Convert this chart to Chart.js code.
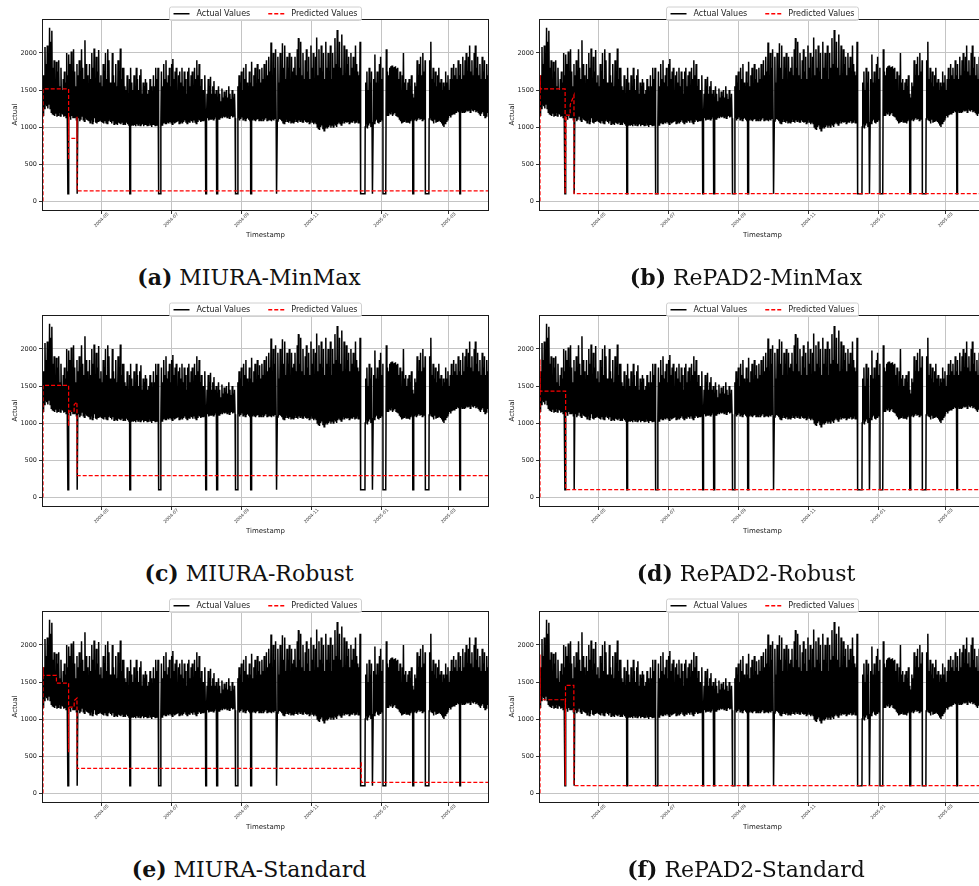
<!DOCTYPE html>
<html>
<head>
<meta charset="utf-8">
<script src="https://cdn.jsdelivr.net/npm/chart.js@4.4.1/dist/chart.umd.min.js"></script>
<style>
  html, body { margin: 0; padding: 0; background: #fff; }
  #page { position: relative; width: 979px; height: 886px; overflow: hidden; }
  .panel { position: absolute; }
  .caption {
    position: absolute; width: 498px; text-align: center;
    font-family: "DejaVu Serif", serif; font-size: 22px; line-height: 26px; color: #111;
  }
</style>
</head>
<body>
<div id="page"></div>
<script>
// x values are days counted from 2004-03-01
const startDay = 9.75;      // 2004-03-10 18:00
const endDay = 399.58;      // 2005-04-04 14:00
const startValue = 1360;
const firstDay = 10;

const tickDays = [61, 122, 184, 245, 306, 365];
const tickLabels = ["2004-05", "2004-07", "2004-09", "2004-11", "2005-01", "2005-03"];
const yTicks = [0, 500, 1000, 1500, 2000];
const yMin = -118, yMax = 2458;

// daily peak / trough of the actual sensor series
const actualHi = [
  1700, 2080, 1850, 2100, 1950, 2340, 2150, 2300, 1800, 1900,
  1650, 1880, 1750, 1900, 1550, 1800, 1500, 1650, 1750, 1600,
  2000, 1700, 1980, 1850, 2020, 1600, 2050, 1750, 1550, 1850,
  1700, 1900, 1550, 2050, 1800, 1650, 2170, 1850, 1700, 1500,
  1850, 1650, 2000, 1800, 2060, 1550, 1950, 1750, 2040, 1600,
  1700, 1550, 1850, 1750, 2000, 1650, 2050, 1900, 1600, 1500,
  2000, 1700, 1600, 1850, 1550, 1900, 1750, 2060, 1650, 1800,
  1800, 1550, 1500, 1700, 1450, 1650, 1800, 1600, 1500, 1700,
  1550, 1800, 1650, 1500, 1700, 1780, 1450, 1600, 1550, 1650,
  1600, 1450, 1500, 1650, 1550, 1400, 1700, 1550, 1800, 1650,
  1800, 1600, 1700, 1750, 1550, 1850, 1650, 1900, 1600, 1700,
  1800, 1550, 1850, 1920, 1650, 1750, 1800, 1500, 1700, 1750,
  1600, 1800, 1550, 1750, 1650, 1450, 1750, 1800, 1550, 1700,
  1750, 1550, 1800, 1650, 1900, 1700, 1850, 1550, 1650, 1500,
  1500, 1700, 1600, 1450, 1650, 1550, 1680, 1450, 1550, 1620,
  1450, 1500, 1400, 1550, 1450, 1350, 1520, 1400, 1480, 1420,
  1500, 1400, 1550, 1450, 1380, 1500, 1400, 1450, 1520, 1600,
  1550, 1700, 1600, 1750, 1500, 1800, 1650, 1850, 1600, 1550,
  1750, 1600, 1880, 1550, 1700, 1800, 1500, 1850, 1650, 1780,
  1600, 1800, 1650, 1850, 1550, 1900, 1700, 1950, 1750, 2140,
  1700, 2000, 1800, 2050, 1700, 1950, 1600, 2000, 1750, 2130,
  1800, 2100, 1650, 1950, 1800, 2000, 1600, 1950, 1750, 1800,
  1950, 1700, 2050, 2200, 1800, 2150, 1700, 2000, 1650, 1900,
  2050, 1750, 1950, 1650, 2100, 1800, 2000, 1600, 1950, 2210,
  1700, 2050, 1800, 2100, 1750, 2000, 1650, 2150, 1800, 2000,
  1750, 2100, 1650, 2000, 1800, 2200, 1850, 2310, 1750, 2150,
  1800, 2250, 1700, 2100, 1650, 2050, 1850, 1950, 1700, 2000,
  1800, 1950, 1700, 2100, 1850, 1750, 1700, 2150, 2200, 1900,
  1900, 1850, 1600, 1750, 1500, 1800, 1600, 1750, 1980, 1650,
  1980, 1600, 1750, 1550, 1850, 1950, 1650, 1800, 1900, 2050,
  2050, 1750, 1700, 1800, 1820, 1830, 1800, 1810, 1820, 1790,
  1800, 1650, 1750, 1500, 1700, 2000, 1600, 1650, 1500, 1600,
  1650, 1550, 1700, 1450, 1400, 1600, 1550, 1900, 1700, 1850,
  1950, 1700, 2000, 1750, 1900, 1650, 2050, 2140, 1900, 2150,
  1650, 1800, 1600, 1750, 1550, 1700, 1800, 1600, 1650, 1500,
  1600, 1550, 1750, 1600, 1700, 1500, 1650, 1800, 1650, 1850,
  1700, 1800, 1650, 1900, 1700, 1850, 1650, 1950, 1700, 1900,
  2000, 1750, 1950, 2100, 1750, 1900, 1700, 2000, 2100, 1800,
  1950, 1700, 1850, 1650, 1950, 1750, 1900, 1650, 1850, 1700
];
const actualLo = [
  1150, 1250, 1300, 1280, 1250, 1300, 1250, 1200, 1180, 1160,
  1150, 1180, 1140, 1160, 1200, 1150, 1180, 1170, 1140, 1150,
  1130, 1150, 1120, 1140, 1100, 1150, 1120, 1130, 1140, 1100,
  1100, 1120, 1080, 1100, 1150, 1100, 1080, 1120, 1100, 1090,
  1080, 1060, 1100, 1050, 1070, 1120, 1060, 1050, 1080, 1090,
  1100, 1070, 1060, 1050, 1080, 1060, 1050, 1090, 1100, 1070,
  1050, 1080, 1040, 1060, 1050, 1030, 1060, 1050, 1040, 1070,
  1040, 1050, 1030, 1060, 1040, 1020, 1050, 1030, 1040, 1020,
  1030, 1010, 1040, 1030, 1050, 1020, 1030, 1040, 1010, 1030,
  1040, 1020, 1030, 1050, 1020, 1000, 1030, 1040, 1020, 1030,
  1050, 1040, 1060, 1050, 1030, 1060, 1070, 1050, 1040, 1060,
  1050, 1070, 1060, 1040, 1080, 1050, 1060, 1070, 1080, 1050,
  1060, 1080, 1050, 1070, 1090, 1060, 1050, 1080, 1070, 1090,
  1080, 1060, 1090, 1070, 1050, 1080, 1100, 1090, 1070, 1080,
  1090, 1100, 1080, 1110, 1120, 1090, 1100, 1110, 1120, 1100,
  1110, 1130, 1120, 1140, 1110, 1130, 1150, 1120, 1140, 1130,
  1140, 1130, 1150, 1120, 1140, 1150, 1130, 1140, 1120, 1100,
  1100, 1120, 1090, 1110, 1130, 1100, 1120, 1090, 1110, 1120,
  1100, 1080, 1110, 1100, 1120, 1090, 1080, 1100, 1110, 1090,
  1100, 1090, 1110, 1080, 1100, 1120, 1090, 1100, 1110, 1090,
  1080, 1100, 1090, 1120, 1100, 1080, 1090, 1110, 1100, 1080,
  1060, 1050, 1080, 1100, 1070, 1060, 1080, 1050, 1070, 1060,
  1080, 1100, 1070, 1060, 1090, 1080, 1100, 1070, 1060, 1090,
  1070, 1060, 1080, 1050, 1070, 1090, 1060, 1040, 1060, 1050,
  1000, 980, 960, 1000, 1020, 970, 950, 990, 1010, 980,
  1000, 1020, 990, 1030, 1000, 1050, 1020, 1000, 1040, 1060,
  1050, 1030, 1060, 1080, 1050, 1070, 1060, 1080, 1050, 1070,
  1070, 1060, 1080, 1050, 1070, 1100, 1060, 1080, 1070, 1100,
  1100, 1100, 1000, 1050, 980, 1020, 1050, 1000, 1040, 1060,
  1050, 1080, 1100, 1060, 1050, 1080, 1100, 1120, 1100, 1080,
  1100, 1150, 1160, 1200, 1180, 1200, 1150, 1170, 1190, 1160,
  1150, 1140, 1100, 1080, 1050, 1060, 1080, 1100, 1070, 1060,
  1060, 1050, 1080, 1100, 1070, 1100, 1120, 1080, 1100, 1120,
  1100, 1120, 1090, 1110, 1130, 1100, 1120, 1100, 1110, 1130,
  1100, 1080, 1050, 1100, 1060, 1080, 1090, 1100, 1070, 1050,
  1020, 1000, 1050, 1080, 1100, 1120, 1150, 1130, 1160, 1180,
  1180, 1200, 1190, 1210, 1200, 1180, 1220, 1200, 1210, 1190,
  1200, 1220, 1210, 1230, 1200, 1250, 1220, 1210, 1230, 1200,
  1220, 1200, 1180, 1150, 1180, 1200, 1150, 1130, 1150, 1200
];

// sensor dropouts (value falls to ~100)
const gapStart = [31.6, 39.7, 85.8, 111.1, 152.3, 161.9, 178.4, 191.7, 214.2, 288.0, 298.2, 307.6, 333.7, 344.7, 374.9];
const gapEnd   = [31.9, 40.0, 86.1, 112.5, 152.6, 162.2, 180.4, 192.0, 214.5, 291.8, 298.5, 310.0, 334.0, 347.8, 375.2];
const gapLevel = 100;

// predicted values per method
const predMiuraMinMaxDays = [9.75, 9.8, 32.2, 32.25, 32.3, 32.35, 39.5, 39.55, 39.65, 399.58];
const predMiuraMinMaxVals = [0, 1515, 1515, 560, 1140, 847, 847, 1140, 140, 140];
const predRepadMinMaxDays = [9.75, 9.8, 10.0, 31.75, 31.8, 32.6, 36.1, 36.2, 39.5, 39.6, 399.58];
const predRepadMinMaxVals = [0, 1703, 1515, 1515, 104, 1162, 1162, 1300, 1432, 104, 104];
const predMiuraRobustDays = [9.75, 9.8, 32.2, 32.25, 32.3, 37.0, 37.1, 39.5, 39.6, 399.58];
const predMiuraRobustVals = [0, 1510, 1510, 960, 1162, 1162, 1250, 1284, 293, 293];
const predRepadRobustDays = [9.75, 9.8, 9.9, 32.2, 32.3, 399.58];
const predRepadRobustVals = [0, 1860, 1432, 1432, 104, 104];
const predMiuraStandardDays = [9.75, 9.8, 9.9, 21.5, 21.55, 32.2, 32.25, 32.3, 37.0, 37.1, 39.5, 39.6, 288.5, 288.55, 288.6, 399.58];
const predMiuraStandardVals = [0, 1703, 1590, 1590, 1486, 1486, 554, 1162, 1162, 1250, 1284, 335, 335, 430, 148, 148];
const predRepadStandardDays = [9.75, 9.8, 9.9, 31.9, 31.95, 32.1, 39.4, 39.5, 399.58];
const predRepadStandardVals = [0, 1870, 1261, 1261, 104, 1455, 1455, 104, 104];

const legendLabels = ["Actual Values", "Predicted Values"];

const panels = [
  { tag: "(a)", name: "MIURA-MinMax",    left: 0,   top: 0,   days: predMiuraMinMaxDays,   vals: predMiuraMinMaxVals },
  { tag: "(b)", name: "RePAD2-MinMax",   left: 497, top: 0,   days: predRepadMinMaxDays,   vals: predRepadMinMaxVals },
  { tag: "(c)", name: "MIURA-Robust",    left: 0,   top: 296, days: predMiuraRobustDays,   vals: predMiuraRobustVals },
  { tag: "(d)", name: "RePAD2-Robust",   left: 497, top: 296, days: predRepadRobustDays,   vals: predRepadRobustVals },
  { tag: "(e)", name: "MIURA-Standard",  left: 0,   top: 592, days: predMiuraStandardDays, vals: predMiuraStandardVals },
  { tag: "(f)", name: "RePAD2-Standard", left: 497, top: 592, days: predRepadStandardDays, vals: predRepadStandardVals }
];

const sans = '"DejaVu Sans", sans-serif';

function buildActual() {
  let pts = [{ x: startDay, y: startValue }];
  actualLo.forEach((lo, i) => {
    pts.push({ x: firstDay + i, y: lo });
    pts.push({ x: firstDay + i + 0.5, y: actualHi[i] });
  });
  pts = pts.filter(p => !gapStart.some((s, k) => p.x >= s && p.x <= gapEnd[k]));
  gapStart.forEach((s, k) => {
    pts.push({ x: s, y: gapLevel }, { x: gapEnd[k], y: gapLevel });
  });
  pts.sort((a, b) => a.x - b.x);
  return pts;
}

const framePlugin = {
  id: "frame",
  afterDraw(chart) {
    const ctx = chart.ctx;
    const a = chart.chartArea;
    const x = chart.scales.x;
    ctx.save();

    // x tick labels, rotated 45deg and centred under the tick
    ctx.font = "4.5px " + sans;
    ctx.fillStyle = "#333";
    ctx.textAlign = "center";
    ctx.textBaseline = "middle";
    tickDays.forEach((d, i) => {
      ctx.save();
      ctx.translate(x.getPixelForValue(d), a.bottom + 10);
      ctx.rotate(-Math.PI / 4);
      ctx.fillText(tickLabels[i], 0, 0);
      ctx.restore();
    });

    // axes frame
    ctx.strokeStyle = "#1a1a1a";
    ctx.lineWidth = 1;
    ctx.strokeRect(Math.round(a.left) - 0.5, Math.round(a.top) + 0.5,
                   Math.round(a.right - a.left) + 1, Math.round(a.bottom - a.top));

    // legend, centred on the top edge
    ctx.font = "8px " + sans;
    const w1 = ctx.measureText(legendLabels[0]).width;
    const w2 = ctx.measureText(legendLabels[1]).width;
    const pad = 4, handle = 16, gap = 7, colGap = 18;
    const boxW = pad + handle + gap + w1 + colGap + handle + gap + w2 + pad;
    const bx = (a.left + a.right) / 2 - boxW / 2;
    const by = a.top - 12, bh = 13.5;
    ctx.fillStyle = "rgba(255,255,255,0.85)";
    ctx.strokeStyle = "#d0d0d0";
    ctx.beginPath();
    ctx.roundRect(bx, by, boxW, bh, 2);
    ctx.fill();
    ctx.stroke();
    const my = by + bh / 2;
    let cx = bx + pad;
    ctx.lineWidth = 1.5;
    ctx.strokeStyle = "#000";
    ctx.beginPath(); ctx.moveTo(cx, my); ctx.lineTo(cx + handle, my); ctx.stroke();
    cx += handle + gap;
    ctx.fillStyle = "#222";
    ctx.textAlign = "left";
    ctx.fillText(legendLabels[0], cx, my + 0.5);
    cx += w1 + colGap;
    ctx.strokeStyle = "#ff0000";
    ctx.setLineDash([4, 2]);
    ctx.beginPath(); ctx.moveTo(cx, my); ctx.lineTo(cx + handle, my); ctx.stroke();
    ctx.setLineDash([]);
    cx += handle + gap;
    ctx.fillText(legendLabels[1], cx, my + 0.5);
    ctx.restore();
  }
};

const page = document.getElementById("page");
const actualData = buildActual();

panels.forEach(p => {
  const canvas = document.createElement("canvas");
  canvas.className = "panel";
  canvas.width = 500;
  canvas.height = 245;
  canvas.style.left = p.left + "px";
  canvas.style.top = p.top + "px";
  canvas.style.width = "500px";
  canvas.style.height = "245px";
  page.appendChild(canvas);

  const cap = document.createElement("div");
  cap.className = "caption";
  cap.style.left = p.left + "px";
  cap.style.top = (p.top + 264) + "px";
  cap.innerHTML = "<b>" + p.tag + "</b> " + p.name;
  page.appendChild(cap);

  const pred = p.days.map((d, i) => ({ x: d, y: p.vals[i] }));

  new Chart(canvas, {
    type: "line",
    data: {
      datasets: [
        { label: legendLabels[1], data: pred, borderColor: "#ff0000", borderWidth: 1.2,
          borderDash: [4, 2], pointRadius: 0, fill: false, order: 0 },
        { label: legendLabels[0], data: actualData, borderColor: "#000", borderWidth: 1.5,
          pointRadius: 0, fill: false, order: 1 }
      ]
    },
    options: {
      responsive: false,
      animation: false,
      events: [],
      layout: { padding: { top: 19, right: 12, left: 0, bottom: 0 } },
      plugins: { legend: { display: false }, tooltip: { enabled: false } },
      scales: {
        x: {
          type: "linear", min: startDay, max: endDay,
          afterBuildTicks: s => { s.ticks = tickDays.map(v => ({ value: v })); },
          afterFit: s => { s.height = 35; },
          ticks: { display: false },
          grid: { color: "#c4c4c4", lineWidth: 1, tickLength: 4, tickColor: "#333" },
          border: { display: false },
          title: { display: true, text: "Timestamp", color: "#222",
                   font: { family: sans, size: 7 }, padding: { top: 0, bottom: 6 } }
        },
        y: {
          type: "linear", min: yMin, max: yMax,
          afterBuildTicks: s => { s.ticks = yTicks.map(v => ({ value: v })); },
          afterFit: s => { s.width = 43; },
          ticks: { color: "#222", font: { family: sans, size: 6.5 }, padding: 2,
                   callback: v => String(v) },
          grid: { color: "#c4c4c4", lineWidth: 1, tickLength: 4, tickColor: "#333" },
          border: { display: false },
          title: { display: true, text: "Actual", color: "#222",
                   font: { family: sans, size: 7 }, padding: { top: 11, bottom: 0 } }
        }
      }
    },
    plugins: [framePlugin]
  });
});
</script>
</body>
</html>
